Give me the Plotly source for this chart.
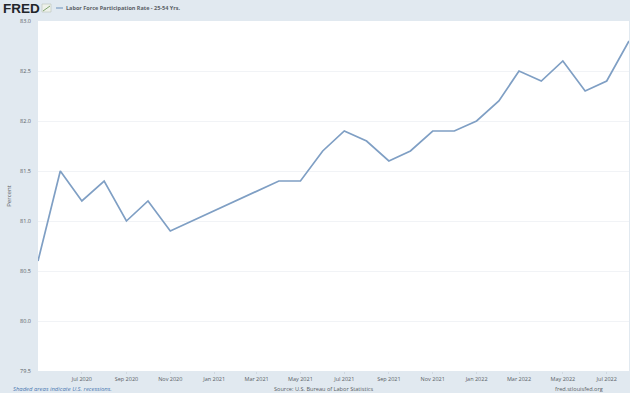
import plotly.graph_objects as go

months = ["2020-05-01","2020-06-01","2020-07-01","2020-08-01","2020-09-01","2020-10-01","2020-11-01","2020-12-01",
          "2021-01-01","2021-02-01","2021-03-01","2021-04-01","2021-05-01","2021-06-01","2021-07-01","2021-08-01",
          "2021-09-01","2021-10-01","2021-11-01","2021-12-01","2022-01-01","2022-02-01","2022-03-01","2022-04-01",
          "2022-05-01","2022-06-01","2022-07-01","2022-08-01"]
rate = [80.6,81.5,81.2,81.4,81.0,81.2,80.9,81.0,81.1,81.2,81.3,81.4,81.4,81.7,81.9,81.8,
        81.6,81.7,81.9,81.9,82.0,82.2,82.5,82.4,82.6,82.3,82.4,82.8]
tick_dates = ["2020-07-01","2020-09-01","2020-11-01","2021-01-01","2021-03-01","2021-05-01","2021-07-01",
              "2021-09-01","2021-11-01","2022-01-01","2022-03-01","2022-05-01","2022-07-01"]
tick_labels = ["Jul 2020","Sep 2020","Nov 2020","Jan 2021","Mar 2021","May 2021","Jul 2021",
               "Sep 2021","Nov 2021","Jan 2022","Mar 2022","May 2022","Jul 2022"]
y_ticks = [79.5,80.0,80.5,81.0,81.5,82.0,82.5,83.0]
y_labels = ["79.5","80.0","80.5","81.0","81.5","82.0","82.5","83.0"]

BG = "#e1e9f0"
TXT = "#5a5f66"
W, H = 630, 393
L, R, T, B = 38, 1, 21, 22
PW, PH = W - L - R, H - T - B
def fx(px): return (px - L) / PW
def fy(py): return 1 - (py - T) / PH

fig = go.Figure(go.Scatter(x=months, y=rate, mode="lines", line=dict(color="#7f9fc4", width=1.7),
                           hoverinfo="skip", showlegend=False))
def note(text, px, py, anchor, size, color=TXT, family="Open Sans"):
    return dict(text=text, x=fx(px), y=fy(py), xref="paper", yref="paper", xanchor=anchor, yanchor="middle",
                showarrow=False, font=dict(family=family, size=size, color=color))
fig.update_layout(
    width=W, height=H, margin=dict(l=L, r=R, t=T, b=B), paper_bgcolor=BG, plot_bgcolor="white",
    font=dict(family="Open Sans", size=5.5, color=TXT),
    xaxis=dict(range=["2020-05-01","2022-08-01"], tickmode="array", tickvals=tick_dates, ticktext=tick_labels,
               showgrid=False, ticks="outside", ticklen=2, tickwidth=1, tickcolor="#d0d8e0",
               tickfont=dict(size=5.5, color=TXT), showline=False),
    yaxis=dict(range=[79.5,83.0], tickmode="array", tickvals=y_ticks, ticktext=y_labels,
               showgrid=True, gridcolor="#f1f3f6", gridwidth=1, zeroline=False, ticks="",
               tickfont=dict(size=5.5, color=TXT), ticklabelstandoff=6,
               title=dict(text="Percent", font=dict(size=6, color=TXT), standoff=8)),
    annotations=[
        note("<b>FRED</b>", 1, 8, "left", 13.5, "#22252a", "Liberation Sans"),
        note("<b>Labor Force Participation Rate - 25-54 Yrs.</b>", 64, 8, "left", 5.5),
        note("<i>Shaded areas indicate U.S. recessions.</i>", 11, 389, "left", 5.9, "#4a78b0"),
        note("Source: U.S. Bureau of Labor Statistics", 323, 389, "center", 5.6),
        note("fred.stlouisfed.org", 579, 389, "center", 5.6),
    ],
)

def shape(kind, x0, y0, x1, y1, **kw):
    fig.add_shape(type=kind, xref="paper", yref="paper", x0=fx(x0), x1=fx(x1), y0=fy(y0), y1=fy(y1), layer="above", **kw)

shape("line", 56, 8, 63, 8, line=dict(color="#7f9fc4", width=1.2))
shape("rect", 42, 4, 51, 12, line=dict(color="#b9c4b8", width=0.6), fillcolor="#eef1ea")
shape("line", 43, 11, 50, 6, line=dict(color="#7fa36f", width=1))
fig.write_html("out.html", config=dict(displayModeBar=False),
               post_script="document.body.style.margin='0';document.documentElement.style.overflow='hidden';")
